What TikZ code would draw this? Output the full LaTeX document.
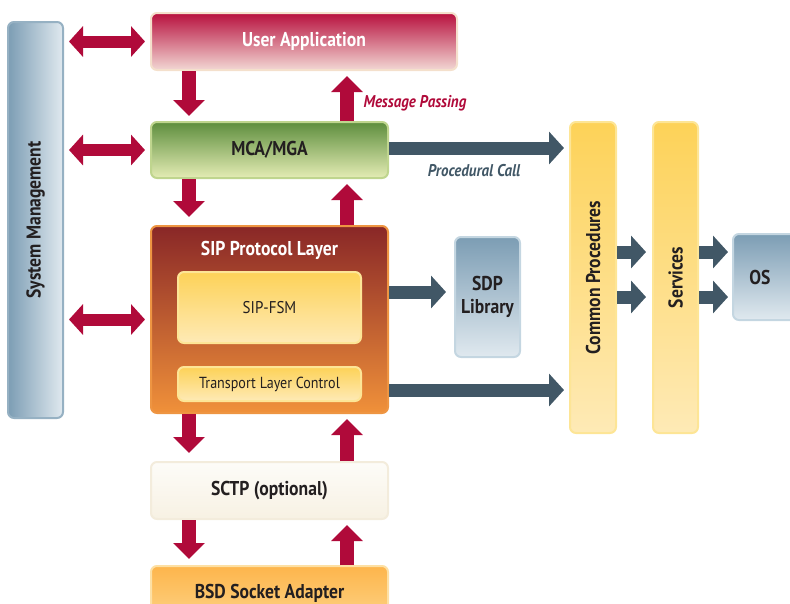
\documentclass[tikz,border=0pt]{standalone}
\usepackage{fontspec}
\setmainfont{PT Sans}[FakeStretch=0.88]
\usepackage{xcolor}
\usetikzlibrary{positioning,arrows.meta}

\definecolor{crimson}{HTML}{B00A3A}
\definecolor{slate}{HTML}{415766}
\definecolor{uatop}{HTML}{B8103E}
\definecolor{uabot}{HTML}{F2D8D4}
\definecolor{ualine}{HTML}{F4E0CC}
\definecolor{mcatop}{HTML}{5E8E3E}
\definecolor{mcabot}{HTML}{E4ECB4}
\definecolor{mcaline}{HTML}{BFD58E}
\definecolor{siptop}{HTML}{892727}
\definecolor{sipbot}{HTML}{F0913A}
\definecolor{sipline}{HTML}{EE9542}
\definecolor{yeltop}{HTML}{FDD258}
\definecolor{yelbot}{HTML}{FEEAB6}
\definecolor{yelline}{HTML}{FDE596}
\definecolor{sctptop}{HTML}{FDFCF8}
\definecolor{sctpbot}{HTML}{F7F1E3}
\definecolor{sctpline}{HTML}{F3ECDC}
\definecolor{bsdtop}{HTML}{FDB54C}
\definecolor{bsdbot}{HTML}{FDD486}
\definecolor{bsdline}{HTML}{FDE0A4}
\definecolor{bluetop}{HTML}{7C9DB4}
\definecolor{bluebot}{HTML}{E0E9EF}
\definecolor{blueline}{HTML}{C4D6E1}
\definecolor{textdark}{HTML}{231F20}

\tikzset{
	box/.style={draw, rounded corners=6pt, line width=2pt, inner sep=0pt,
		font=\bfseries\fontsize{20}{23}\selectfont, text=textdark, align=center},
	uabox/.style={box, draw=ualine, top color=uatop, bottom color=uabot, text=white},
	mcabox/.style={box, draw=mcaline, top color=mcatop, bottom color=mcabot},
	sipbox/.style={box, draw=sipline, top color=siptop, bottom color=sipbot},
	yelbox/.style={box, draw=yelline, top color=yeltop, bottom color=yelbot},
	sctpbox/.style={box, draw=sctpline, top color=sctptop, bottom color=sctpbot},
	bsdbox/.style={box, draw=bsdline, top color=bsdtop, bottom color=bsdbot},
	bluebox/.style={box, draw=blueline, top color=bluetop, bottom color=bluebot},
	vtext/.style={rotate=90, font=\bfseries\fontsize{20}{23}\selectfont, text=textdark},
	redarrow/.style={line width=14pt, crimson, -{Triangle[width=31pt,length=16pt]}, shorten >=5pt},
	dblarrow/.style={line width=12pt, crimson, {Triangle[width=30pt,length=14pt]}-{Triangle[width=30pt,length=14pt]},
		shorten <=5pt, shorten >=5pt},
	greyarrow/.style={line width=13pt, slate, -{Triangle[width=32pt,length=15pt]}},
}

\begin{document}
\begin{tikzpicture}[x=1pt, y=-1pt]
	\useasboundingbox (0,0) rectangle (790,603);
	\clip (0,0) rectangle (790,603);

	% left bar
	\node[box, draw=bluetop!80, left color=bluetop, right color=bluebot,
		minimum width=55, minimum height=396] (sysm) at (35.5,220) {};
	\node[vtext] (sysmt) at (sysm.center) {System Management};

	% main stack
	\node[uabox, minimum width=306, minimum height=57] (ua) at (304,41.5) {\raisebox{-2pt}{User Application}};
	\node[mcabox, minimum width=237, minimum height=56] (mca) at (269.5,150) {MCA/MGA};
	\node[sipbox, minimum width=237, minimum height=187] (sip) at (269.5,319.5) {};
	\node[font=\bfseries\fontsize{20}{23}\selectfont, text=white] (sipt) at (269.5,250) {SIP Protocol Layer};
	\node[yelbox, font=\fontsize{17}{20}\selectfont, minimum width=183, minimum height=71] (fsm) at (269.5,307.5) {SIP-FSM};
	\node[yelbox, font=\fontsize{16}{19}\selectfont, minimum width=183, minimum height=34] (tlc) at (269.5,384) {Transport Layer Control};
	\node[sctpbox, minimum width=237, minimum height=57] (sctp) at (269.5,490.5) {SCTP (optional)};
	\node[bsdbox, minimum width=237, minimum height=57] (bsd) at (269.5,594.5) {\raisebox{7pt}{BSD Socket Adapter}};

	% right side
	\node[bluebox, minimum width=65, minimum height=120] (sdp) at (487.5,297) {SDP\\Library};
	\node[yelbox, minimum width=46, minimum height=311] (cp) at (593,277.5) {};
	\node[vtext] (cpt) at (cp.center) {Common Procedures};
	\node[yelbox, minimum width=45, minimum height=311] (sv) at (675.5,277.5) {};
	\node[vtext] (svt) at (sv.center) {Services};
	\node[bluebox, minimum width=72, minimum height=86] (os) at (769,277) {\hspace*{-18pt}OS};

	% labels
	\node[anchor=west, font=\bfseries\itshape\fontsize{17}{20}\selectfont, text=crimson] (msg) at (360,103) {Message Passing};
	\node[font=\bfseries\itshape\fontsize{17}{20}\selectfont, text=slate] (proc) at (474,171) {Procedural Call};

	% columns for vertical arrows and rows for side arrows
	\coordinate (colL) at (189,0);
	\coordinate (colR) at (347,0);
	\coordinate (row1) at (0,252);
	\coordinate (row2) at (0,297);

	% system management links
	\draw[dblarrow] (sysm.east |- ua) -- (ua.west);
	\draw[dblarrow] (sysm.east |- mca) -- (mca.west);
	\draw[dblarrow] (sysm.east |- sip) -- (sip.west);

	% downward
	\draw[redarrow] (ua.south -| colL) -- (mca.north -| colL);
	\draw[redarrow, shorten >=8pt] (mca.south -| colL) -- (sip.north -| colL);
	\draw[redarrow, shorten >=8pt] (sip.south -| colL) -- (sctp.north -| colL);
	\draw[redarrow, shorten >=6pt] (sctp.south -| colL) -- (bsd.north -| colL);

	% upward
	\draw[redarrow] (mca.north -| colR) -- (ua.south -| colR);
	\draw[redarrow] (sip.north -| colR) -- (mca.south -| colR);
	\draw[redarrow] (sctp.north -| colR) -- (sip.south -| colR);
	\draw[redarrow] (bsd.north -| colR) -- (sctp.south -| colR);

	% procedure calls
	\draw[greyarrow, shorten >=5pt] ([yshift=2pt]mca.east) -- ([yshift=2pt]cp.west |- mca.east);
	\draw[greyarrow, shorten >=8pt] ([yshift=5pt]sip.east |- sdp) -- ([yshift=5pt]sdp.west);
	\draw[greyarrow, shorten >=5pt] ([yshift=-6pt]sip.east |- tlc) -- ([yshift=-6pt]cp.west |- tlc);
	\draw[greyarrow, shorten >=6pt] (cp.east |- row1) -- (sv.west |- row1);
	\draw[greyarrow, shorten >=6pt] (cp.east |- row2) -- (sv.west |- row2);
	\draw[greyarrow, shorten >=4pt] (sv.east |- row1) -- (os.west |- row1);
	\draw[greyarrow, shorten >=4pt] (sv.east |- row2) -- (os.west |- row2);
\end{tikzpicture}
\end{document}
